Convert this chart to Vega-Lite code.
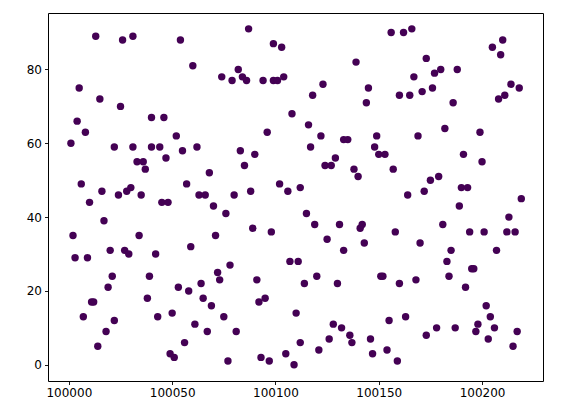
{
  "$schema": "https://vega.github.io/schema/vega-lite/v6.json",
  "autosize": {"type": "none"},
  "padding": {"left": 48, "top": 13, "right": 25, "bottom": 36},
  "width": 495,
  "height": 368,
  "background": "white",
  "config": {
    "view": {"stroke": "black", "strokeWidth": 1},
    "axis": {"grid": false, "domain": false, "tickColor": "black", "tickSize": 3.5, "tickWidth": 0.9, "labelColor": "black", "labelFont": "DejaVu Sans", "labelFontSize": 12, "labelPadding": 3, "title": null}
  },
  "data": {"values": [
    {"x":100013,"y":89},{"x":100026,"y":88},{"x":100031,"y":89},{"x":100005,"y":75},{"x":100015,"y":72},{"x":100025,"y":70},{"x":100004,"y":66},{"x":100008,"y":63},{"x":100040,"y":67},{"x":100046,"y":67},{"x":100052,"y":62},{"x":100001,"y":60},{"x":100022,"y":59},{"x":100031,"y":59},{"x":100040,"y":59},{"x":100044,"y":59},{"x":100047,"y":56},{"x":100033,"y":55},{"x":100036,"y":55},{"x":100037,"y":53},{"x":100006,"y":49},{"x":100016,"y":47},{"x":100024,"y":46},{"x":100028,"y":47},{"x":100030,"y":48},{"x":100035,"y":46},{"x":100010,"y":44},{"x":100045,"y":44},{"x":100048,"y":44},
    {"x":100087,"y":91},{"x":100054,"y":88},{"x":100099,"y":87},{"x":100103,"y":86},{"x":100060,"y":81},{"x":100082,"y":80},{"x":100074,"y":78},{"x":100079,"y":77},{"x":100084,"y":78},{"x":100086,"y":77},{"x":100094,"y":77},{"x":100099,"y":77},{"x":100101,"y":77},{"x":100104,"y":78},{"x":100108,"y":68},{"x":100096,"y":63},{"x":100055,"y":58},{"x":100062,"y":59},{"x":100083,"y":58},{"x":100090,"y":57},{"x":100085,"y":54},{"x":100068,"y":52},{"x":100057,"y":49},{"x":100063,"y":46},{"x":100066,"y":46},{"x":100080,"y":46},{"x":100088,"y":47},{"x":100102,"y":49},{"x":100106,"y":47},{"x":100112,"y":48},
    {"x":100156,"y":90},{"x":100162,"y":90},{"x":100166,"y":91},{"x":100139,"y":82},{"x":100173,"y":83},{"x":100167,"y":78},{"x":100123,"y":76},{"x":100118,"y":73},{"x":100145,"y":75},{"x":100144,"y":71},{"x":100160,"y":73},{"x":100165,"y":73},{"x":100171,"y":74},{"x":100116,"y":65},{"x":100122,"y":62},{"x":100117,"y":59},{"x":100133,"y":61},{"x":100135,"y":61},{"x":100149,"y":62},{"x":100148,"y":59},{"x":100150,"y":57},{"x":100153,"y":57},{"x":100169,"y":62},{"x":100129,"y":56},{"x":100124,"y":54},{"x":100127,"y":54},{"x":100138,"y":53},{"x":100140,"y":51},{"x":100157,"y":53},{"x":100164,"y":46},{"x":100172,"y":47},
    {"x":100210,"y":88},{"x":100205,"y":86},{"x":100209,"y":84},{"x":100177,"y":79},{"x":100180,"y":80},{"x":100188,"y":80},{"x":100176,"y":75},{"x":100186,"y":71},{"x":100214,"y":76},{"x":100218,"y":75},{"x":100208,"y":72},{"x":100211,"y":73},{"x":100182,"y":64},{"x":100199,"y":63},{"x":100191,"y":57},{"x":100200,"y":55},{"x":100175,"y":50},{"x":100179,"y":51},{"x":100190,"y":48},{"x":100193,"y":48},{"x":100219,"y":45},
    {"x":100017,"y":39},{"x":100002,"y":35},{"x":100034,"y":35},{"x":100003,"y":29},{"x":100009,"y":29},{"x":100020,"y":31},{"x":100027,"y":31},{"x":100029,"y":30},{"x":100042,"y":30},{"x":100021,"y":24},{"x":100019,"y":21},{"x":100039,"y":24},{"x":100038,"y":18},{"x":100053,"y":21},{"x":100011,"y":17},{"x":100012,"y":17},{"x":100007,"y":13},{"x":100022,"y":12},{"x":100018,"y":9},{"x":100043,"y":13},{"x":100050,"y":14},{"x":100014,"y":5},{"x":100049,"y":3},{"x":100051,"y":2},
    {"x":100070,"y":43},{"x":100076,"y":41},{"x":100089,"y":37},{"x":100098,"y":36},{"x":100071,"y":35},{"x":100059,"y":32},{"x":100107,"y":28},{"x":100111,"y":28},{"x":100078,"y":27},{"x":100072,"y":25},{"x":100073,"y":23},{"x":100091,"y":23},{"x":100058,"y":20},{"x":100064,"y":22},{"x":100065,"y":18},{"x":100069,"y":16},{"x":100092,"y":17},{"x":100095,"y":18},{"x":100114,"y":22},{"x":100075,"y":13},{"x":100061,"y":11},{"x":100067,"y":9},{"x":100081,"y":9},{"x":100110,"y":14},{"x":100056,"y":6},{"x":100077,"y":1},{"x":100093,"y":2},{"x":100097,"y":1},{"x":100105,"y":3},{"x":100109,"y":0},{"x":100112,"y":6},
    {"x":100115,"y":41},{"x":100119,"y":38},{"x":100131,"y":38},{"x":100141,"y":37},{"x":100142,"y":38},{"x":100158,"y":36},{"x":100125,"y":34},{"x":100133,"y":31},{"x":100143,"y":33},{"x":100170,"y":33},{"x":100120,"y":24},{"x":100130,"y":22},{"x":100151,"y":24},{"x":100152,"y":24},{"x":100160,"y":22},{"x":100168,"y":23},{"x":100128,"y":11},{"x":100132,"y":10},{"x":100136,"y":8},{"x":100137,"y":6},{"x":100126,"y":7},{"x":100121,"y":4},{"x":100146,"y":7},{"x":100147,"y":3},{"x":100155,"y":12},{"x":100163,"y":13},{"x":100154,"y":4},{"x":100159,"y":1},{"x":100173,"y":8},
    {"x":100189,"y":43},{"x":100213,"y":40},{"x":100181,"y":38},{"x":100194,"y":36},{"x":100201,"y":36},{"x":100212,"y":36},{"x":100216,"y":36},{"x":100185,"y":31},{"x":100207,"y":31},{"x":100183,"y":28},{"x":100184,"y":24},{"x":100195,"y":26},{"x":100196,"y":26},{"x":100192,"y":21},{"x":100202,"y":16},{"x":100204,"y":13},{"x":100198,"y":11},{"x":100197,"y":9},{"x":100206,"y":10},{"x":100203,"y":7},{"x":100217,"y":9},{"x":100215,"y":5},{"x":100178,"y":10},{"x":100187,"y":10}
  ]},
  "mark": {"type": "circle", "color": "#440154", "opacity": 1, "size": 55},
  "encoding": {
    "x": {"field": "x", "type": "quantitative", "scale": {"domain": [99989.9, 100229.5], "nice": false, "zero": false}, "axis": {"values": [100000, 100050, 100100, 100150, 100200], "format": "d"}},
    "y": {"field": "y", "type": "quantitative", "scale": {"domain": [-4.4, 95.3], "nice": false, "zero": false}, "axis": {"values": [0, 20, 40, 60, 80], "format": "d"}}
  }
}
